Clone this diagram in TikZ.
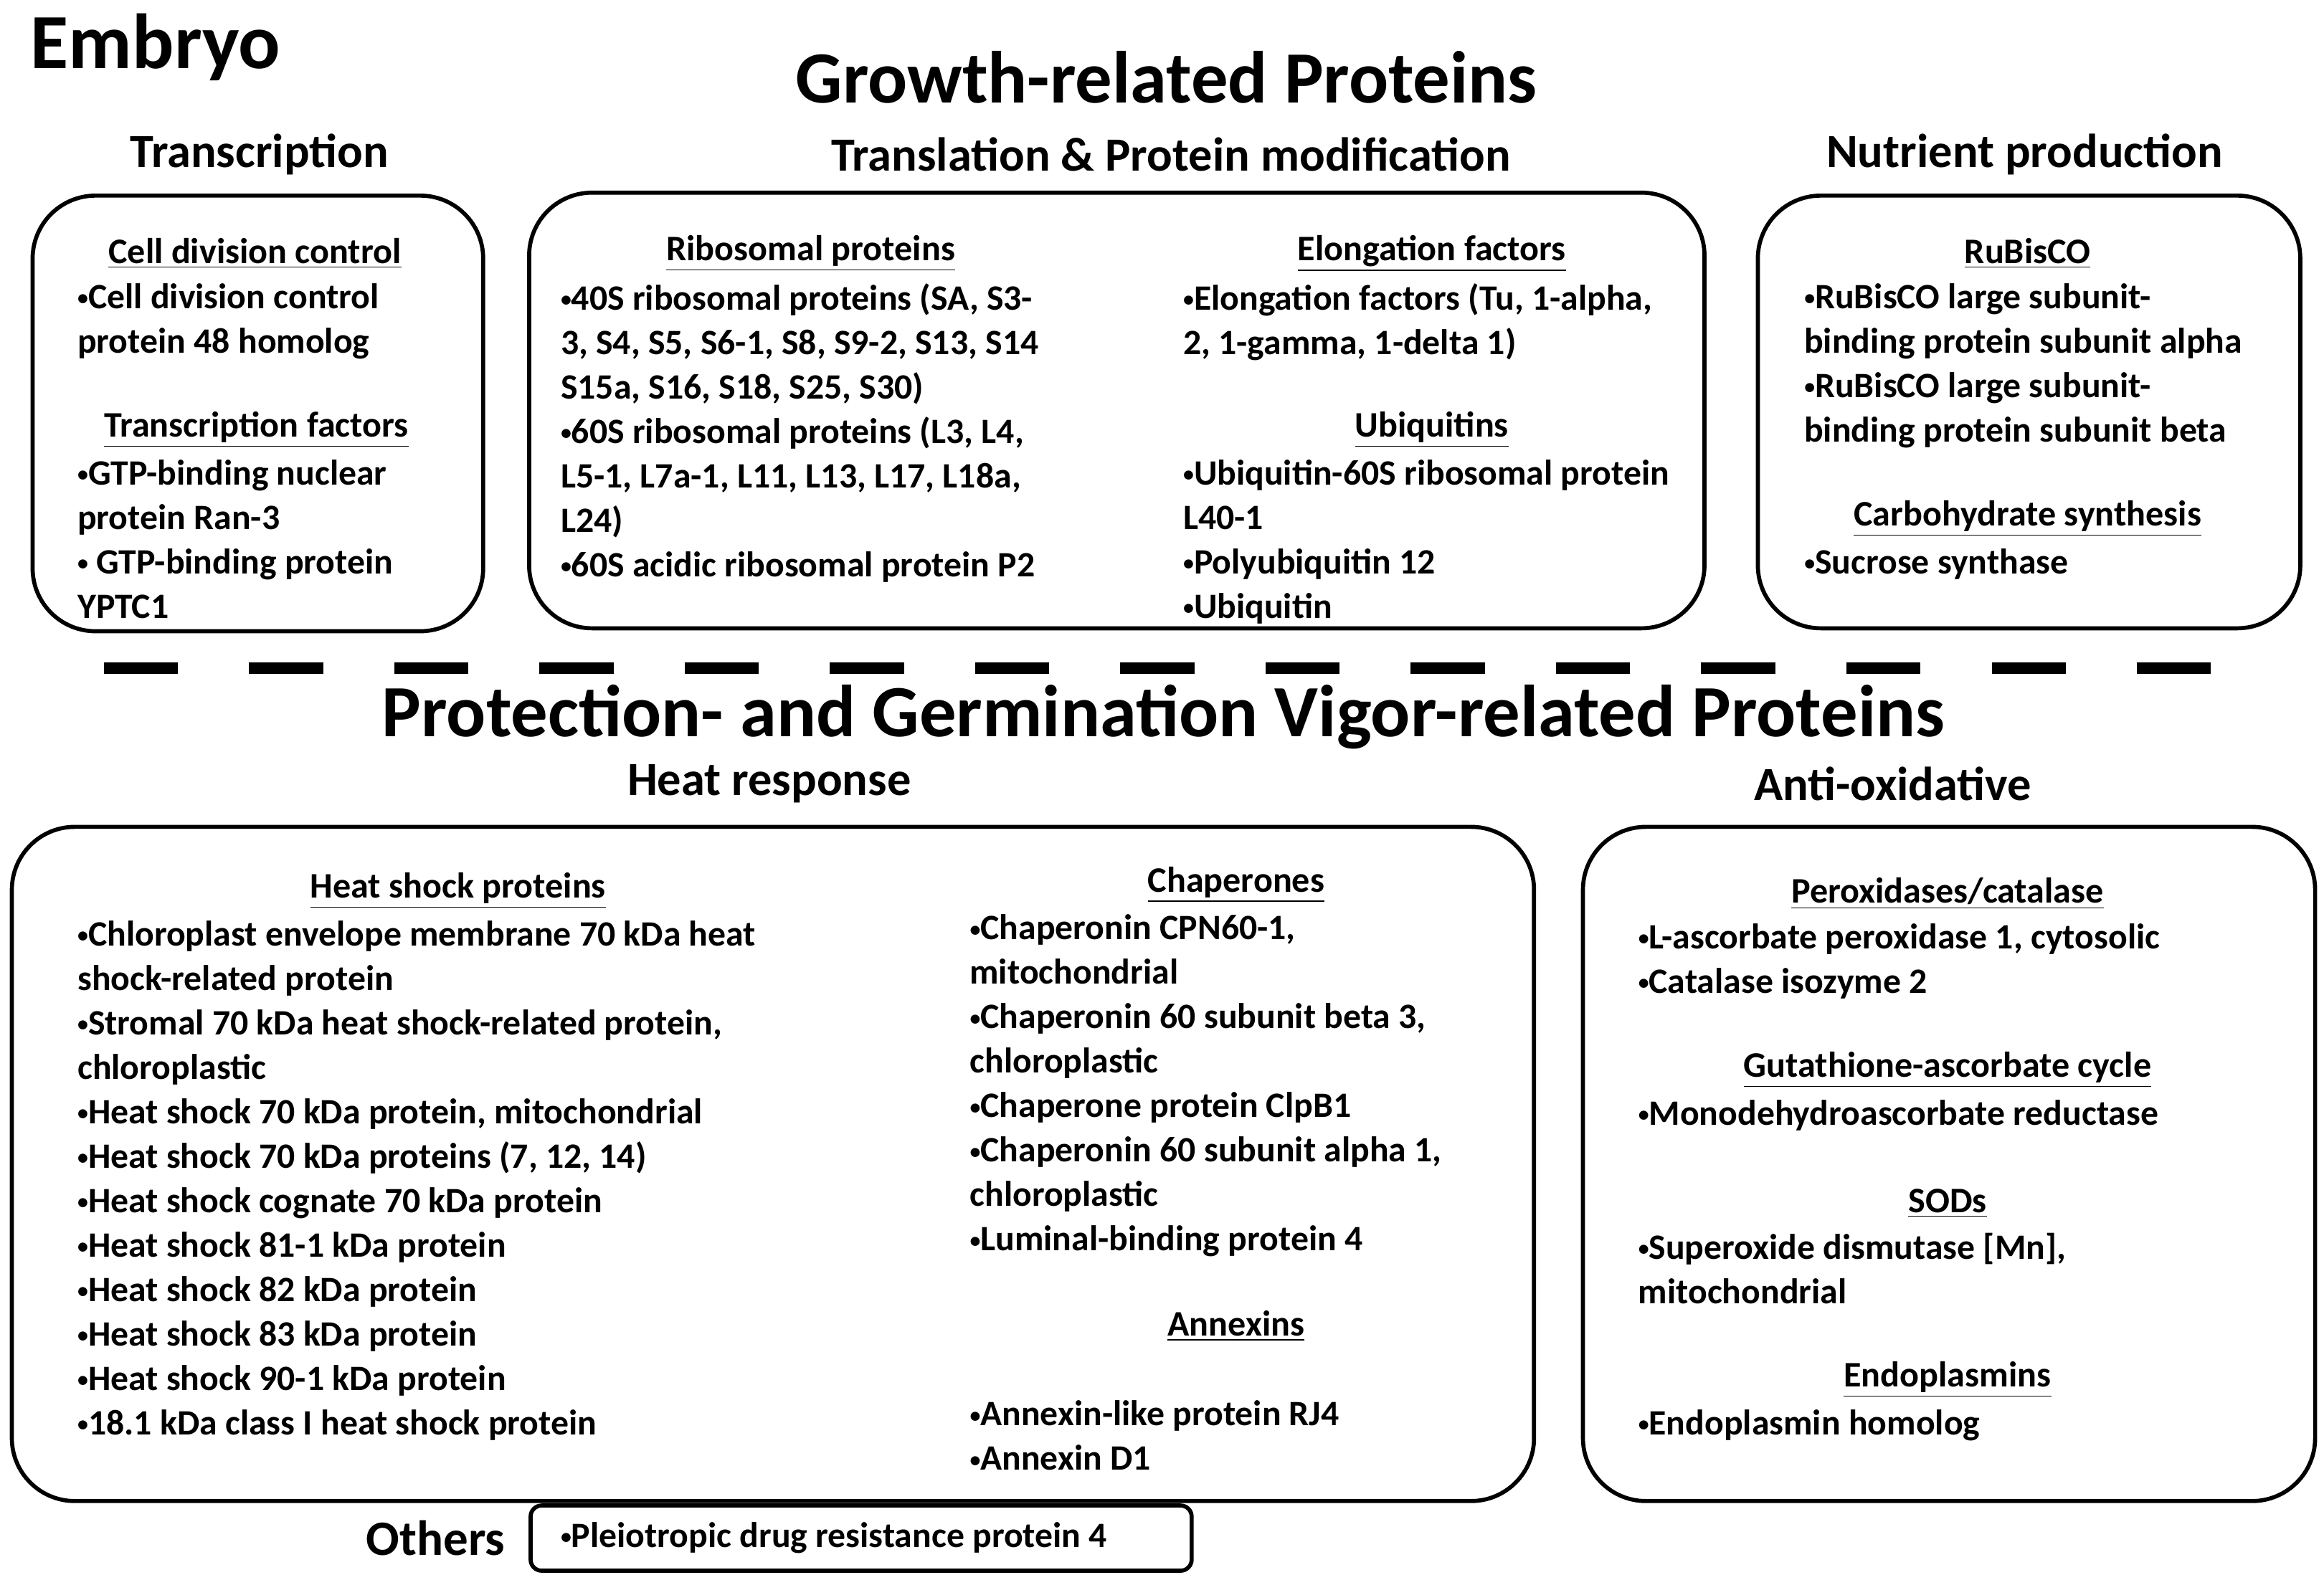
\documentclass[tikz,border=0pt]{standalone}
\usepackage{fontspec}
\usepackage{graphicx}
\setmainfont{Carlito}

\tikzset{
  panel/.style={draw, line width=0.055cm, rounded corners=0.85cm},
  title/.style={font=\bfseries\fontsize{28.3}{32}\selectfont},
  group/.style={font=\bfseries\fontsize{18.3}{22}\selectfont},
  sub/.style={font=\bfseries\fontsize{13.8}{17}\selectfont},
  items/.style={font=\bfseries\fontsize{13.7}{17.07}\selectfont, align=left, anchor=north west, inner sep=0pt}
}
\newcommand{\ul}[1]{\underline{#1}}
\newcommand{\bu}{\raisebox{0.2ex}{\scalebox{0.6}{•}}}

\begin{document}
\begin{tikzpicture}[x=0.02cm, y=-0.02cm]
  \useasboundingbox (0,0) rectangle (1568,1066);

  % Titles
  \node[font=\bfseries\fontsize{30}{34}\selectfont] (embryo) at (105,32) {Embryo};
  \node[title] (growth) at (787,52) {Growth-related Proteins};
  \node[group] (transcr) at (175,104) {Transcription};
  \node[group] (transl) at (790,104) {Translation \& Protein modification};
  \node[group] (nutri) at (1366,104) {Nutrient production};
  \node[title] (protect) at (785,484) {Protection- and Germination Vigor-related Proteins};
  \node[group] (heat) at (519,529) {Heat response};
  \node[group] (antiox) at (1277,529) {Anti-oxidative};

  % Panels
  \draw[panel] (22,132) rectangle (326,426);
  \draw[panel] (357,130) rectangle (1150,424);
  \draw[panel] (1186,132) rectangle (1552,424);
  \draw[panel] (8,558) rectangle (1035,1013);
  \draw[panel] (1068,558) rectangle (1562,1013);
  \draw[line width=0.055cm, rounded corners=0.15cm] (358,1016) rectangle (804,1060);

  % Separator
  \draw[line width=0.16cm, dash pattern=on 1cm off 0.96cm] (70,451) -- (1512,451);

  % Transcription
  \node[sub] (cdc) at (172,171) {\ul{Cell division control}};
  \node[items] (cdcl) at (52,191) {\bu Cell division control\\protein 48 homolog};
  \node[sub] (tf) at (173,290) {\ul{Transcription factors}};
  \node[items] (tfl) at (52,310) {\bu GTP-binding nuclear\\protein Ran-3\\\bu\ GTP-binding protein\\YPTC1};

  % Translation
  \node[sub] (ribo) at (547,171) {\ul{Ribosomal proteins}};
  \node[items] (ribol) at (378,191) {\bu 40S ribosomal proteins (SA, S3-\\3, S4, S5, S6-1, S8, S9-2, S13, S14\\S15a, S16, S18, S25, S30)\\\bu 60S ribosomal proteins (L3, L4,\\L5-1, L7a-1, L11, L13, L17, L18a,\\L24)\\\bu 60S acidic ribosomal protein P2};
  \node[sub] (elong) at (966,171) {\ul{Elongation factors}};
  \node[items] (elongl) at (798,191) {\bu Elongation factors (Tu, 1-alpha,\\2, 1-gamma, 1-delta 1)};
  \node[sub] (ubi) at (966,290) {\ul{Ubiquitins}};
  \node[items] (ubil) at (798,310) {\bu Ubiquitin-60S ribosomal protein\\L40-1\\\bu Polyubiquitin 12\\\bu Ubiquitin};

  % Nutrient production
  \node[sub] (rubisco) at (1368,171) {\ul{RuBisCO}};
  \node[items] (rubiscol) at (1217,191) {\bu RuBisCO large subunit-\\binding protein subunit alpha\\\bu RuBisCO large subunit-\\binding protein subunit beta};
  \node[sub] (carb) at (1368,350) {\ul{Carbohydrate synthesis}};
  \node[items] (carbl) at (1217,370) {\bu Sucrose synthase};

  % Heat response
  \node[sub] (hsp) at (309,601) {\ul{Heat shock proteins}};
  \node[items] (hspl) at (52,621) {\bu Chloroplast envelope membrane 70 kDa heat\\shock-related protein\\\bu Stromal 70 kDa heat shock-related protein,\\chloroplastic\\\bu Heat shock 70 kDa protein, mitochondrial\\\bu Heat shock 70 kDa proteins (7, 12, 14)\\\bu Heat shock cognate 70 kDa protein\\\bu Heat shock 81-1 kDa protein\\\bu Heat shock 82 kDa protein\\\bu Heat shock 83 kDa protein\\\bu Heat shock 90-1 kDa protein\\\bu 18.1 kDa class I heat shock protein};
  \node[sub] (chap) at (834,597) {\ul{Chaperones}};
  \node[items] (chapl) at (654,617) {\bu Chaperonin CPN60-1,\\mitochondrial\\\bu Chaperonin 60 subunit beta 3,\\chloroplastic\\\bu Chaperone protein ClpB1\\\bu Chaperonin 60 subunit alpha 1,\\chloroplastic\\\bu Luminal-binding protein 4};
  \node[sub] (annex) at (834,895) {\ul{Annexins}};
  \node[items] (annexl) at (654,945) {\bu Annexin-like protein RJ4\\\bu Annexin D1};

  % Anti-oxidative
  \node[sub] (perox) at (1314,603) {\ul{Peroxidases/catalase}};
  \node[items] (peroxl) at (1105,623) {\bu L-ascorbate peroxidase 1, cytosolic\\\bu Catalase isozyme 2};
  \node[sub] (gsh) at (1314,722) {\ul{Gutathione-ascorbate cycle}};
  \node[items] (gshl) at (1105,742) {\bu Monodehydroascorbate reductase};
  \node[sub] (sod) at (1314,812) {\ul{SODs}};
  \node[items] (sodl) at (1105,832) {\bu Superoxide dismutase [Mn],\\mitochondrial};
  \node[sub] (endo) at (1314,931) {\ul{Endoplasmins}};
  \node[items] (endol) at (1105,951) {\bu Endoplasmin homolog};

  % Others
  \node[font=\bfseries\fontsize{19}{22}\selectfont] (others) at (294,1038) {Others};
  \node[items, anchor=west] (othersl) at (378,1038) {\bu Pleiotropic drug resistance protein 4};
\end{tikzpicture}
\end{document}
